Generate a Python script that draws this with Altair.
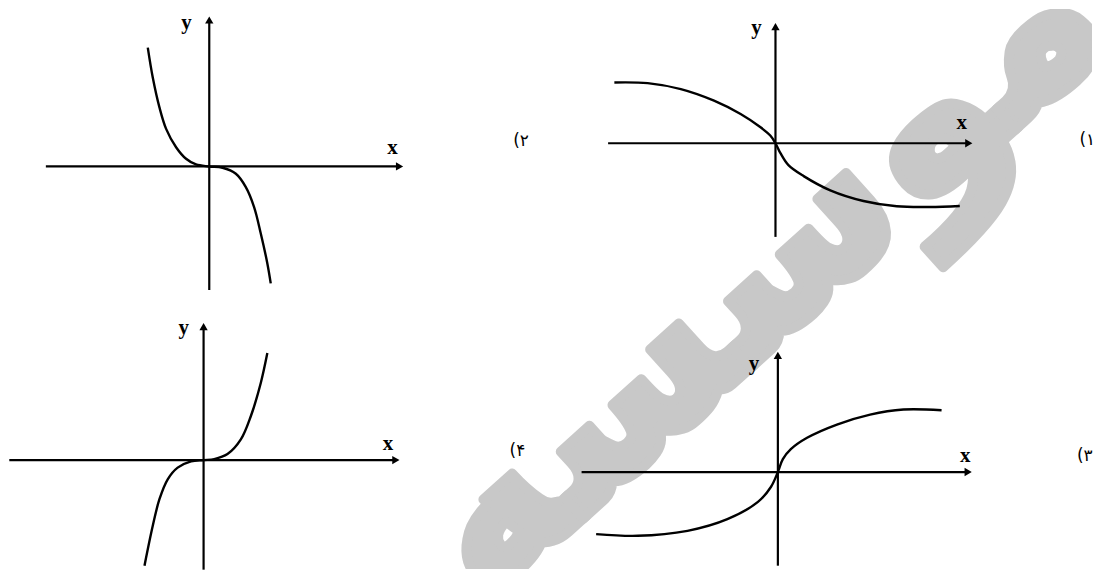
import altair as alt
import pandas as pd

# ---- curve samples (offsets from each origin, y up) ----
# panel 1 (top right)
p1_dx = [-161.7, -128.3, -95, -61.7, -35, -15, -5, 0, 5, 13, 28.3, 55, 88.3, 121.7, 155, 185]
p1_dy = [61, 60.3, 54.3, 42.7, 29.3, 16, 7.5, 0, -10, -22, -33, -47.3, -58, -63.3, -64, -63]
# panel 2 (top left)
p2_dx = [-61.7, -56.7, -50, -43.3, -33.3, -23.3, -13.3, 0, 13.3, 26.7, 36.7, 45, 51.7, 58.3, 61.7]
p2_dy = [119.3, 89.3, 59.3, 37.7, 19.3, 7.7, 2, 0, -1.3, -7.3, -20.7, -40.7, -67.3, -97.3, -117.3]
# panel 3 (bottom right)
p3_dx = [-182.4, -140.7, -90.7, -50.7, -20, -7, 0, 5, 13, 29.3, 59.3, 92.6, 126, 164.3]
p3_dy = [-62.3, -64, -59, -47.3, -30, -15, 0, 13, 23, 34.4, 47.7, 57.7, 62.7, 62]
# panel 4 (bottom left)
p4_dx = [-59.3, -51, -44.3, -36, -26, -12.6, 0, 10.7, 24, 37.4, 47.4, 57.4, 64]
p4_dy = [-106, -66, -39.3, -19.3, -7.6, -1.3, 0, 1.0, 6.0, 20.7, 44, 77.4, 107.4]

# axis extents: (x-axis left end, x-axis tip, y-axis bottom end, y-axis tip)
p1_axes = [-168, 198, -94, 121]
p2_axes = [-164, 195, -124, 151]
p3_axes = [-197, 195, -94, 121]
p4_axes = [-195, 197, -110, 138]

labels_num = ["(\u06f1", "(\u06f2", "(\u06f3", "(\u06f4"]
watermark_text = "موسسه"

W = 544
H_TOP, H_BOT = 297, 265


def panel(dx, dy, axes, ox, oy, w, h, num_text, num_pos, ylab_pos, xlab_pos, wm_pos):
    xs = alt.Scale(domain=[-ox, w - ox], nice=False, zero=False)
    ys = alt.Scale(domain=[-(h - oy), oy], nice=False, zero=False)
    X = lambda f: alt.X(f, type="quantitative", scale=xs, axis=None)
    Y = lambda f: alt.Y(f, type="quantitative", scale=ys, axis=None)

    xl, xt, yb, yt = axes
    ah = 4
    ax_df = pd.DataFrame({
        "x": [xl, 0], "x2": [xt - ah, 0],
        "y": [0, yb], "y2": [0, yt - ah],
    })
    arr_df = pd.DataFrame({
        "x": [xt - ah, 0], "y": [0, yt - ah],
        "shape": ["triangle-right", "triangle-up"],
    })
    curve_df = pd.DataFrame({"dx": dx, "dy": dy})
    lab_df = pd.DataFrame({
        "x": [ylab_pos[0], xlab_pos[0]], "y": [ylab_pos[1], xlab_pos[1]],
        "t": ["y", "x"],
    })
    num_df = pd.DataFrame({"x": [num_pos[0]], "y": [num_pos[1]], "t": [num_text]})
    wm_df = pd.DataFrame({"x": [wm_pos[0]], "y": [wm_pos[1]], "t": [watermark_text]})

    wm = alt.Chart(wm_df).mark_text(
        clip=True, angle=318, fontSize=222, font="DejaVu Sans", fontWeight="bold",
        color="#c8c8c8", stroke="#c8c8c8", strokeWidth=10, strokeJoin="round",
        align="center", baseline="middle",
    ).encode(x=X("x"), y=Y("y"), text="t:N")
    rules = alt.Chart(ax_df).mark_rule(color="black", strokeWidth=2.2).encode(
        x=X("x"), x2="x2", y=Y("y"), y2="y2")
    arrows = alt.Chart(arr_df).mark_point(
        filled=True, color="black", opacity=1, size=70).encode(
        x=X("x"), y=Y("y"), shape=alt.Shape("shape:N", scale=None))
    curve = alt.Chart(curve_df).mark_line(
        color="black", strokeWidth=2.4, interpolate="catmull-rom").encode(
        x=X("dx"), y=Y("dy"), order="dx:Q")
    labs = alt.Chart(lab_df).mark_text(
        font="Liberation Serif", fontWeight="bold", fontSize=21, color="black",
        align="center", baseline="middle").encode(x=X("x"), y=Y("y"), text="t:N")
    num = alt.Chart(num_df).mark_text(
        font="DejaVu Sans", fontSize=17, color="black",
        align="center", baseline="middle").encode(x=X("x"), y=Y("y"), text="t:N")
    return alt.layer(wm, rules, arrows, curve, labs, num).properties(width=w, height=h)


WM = (760, 272)  # watermark centre on the page
# page origins of each panel's axes
o1 = (778.3, 142.7)
o2 = (210.0, 166.0)
o3 = (780.7, 472.7)
o4 = (204.3, 460.7)


def wm_for(o):
    return (WM[0] - o[0], o[1] - WM[1])


c2 = panel(p2_dx, p2_dy, p2_axes, o2[0] - 8, o2[1] - 8, W, H_TOP, labels_num[1],
           (313, 26), (-23, 144), (184, 19), wm_for(o2))
c1 = panel(p1_dx, p1_dy, p1_axes, o1[0] - 552, o1[1] - 8, W, H_TOP, labels_num[0],
           (313, 3), (-19, 116), (187, 20), wm_for(o1))
c4 = panel(p4_dx, p4_dy, p4_axes, o4[0] - 8, o4[1] - 305, W, H_BOT, labels_num[3],
           (315, 9), (-20, 133), (185, 16), wm_for(o4))
c3 = panel(p3_dx, p3_dy, p3_axes, o3[0] - 552, o3[1] - 305, W, H_BOT, labels_num[2],
           (308, 16), (-24, 108), (188, 16), wm_for(o3))

chart = alt.concat(c2, c1, c4, c3, columns=2, spacing=0, bounds="flush",
                   padding=0, background="white").configure_view(strokeWidth=0)

chart.save("out.html", embed_options={"renderer": "svg", "actions": False})
